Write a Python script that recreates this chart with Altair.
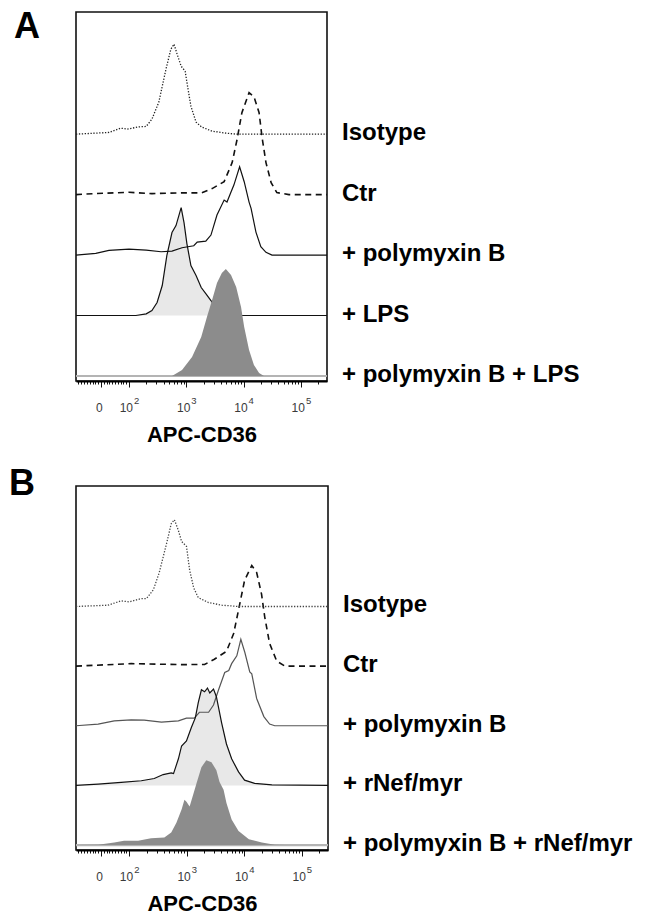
import math
import altair as alt
import pandas as pd

FONT = "Liberation Sans"

# ---------------- data (x = logicle display decades, c = relative count) -------------
# Panel A
A_iso_u = [1.075, 1.42, 1.65, 1.855, 1.965, 2.175, 2.30, 2.40, 2.52, 2.645, 2.73, 2.785, 2.84, 2.91, 2.98, 3.01, 3.08, 3.17, 3.27, 3.45, 3.69, 3.87, 5.455]
A_iso_c = [0, 1, 1.7, 6, 5, 7.3, 7.7, 15, 32, 65, 85, 90, 80, 68, 63, 52, 28, 12, 7, 3, 1, 0, 0]
A_ctr_u = [1.075, 1.40, 2.0, 2.40, 2.925, 3.27, 3.45, 3.66, 3.80, 3.885, 3.97, 4.095, 4.18, 4.27, 4.32, 4.39, 4.48, 4.58, 4.79, 5.455]
A_ctr_c = [0, 1, 2.3, 1, 1.7, 1.7, 6, 13, 32, 55, 82, 102, 98, 82, 58, 32, 12, 2, 0, 0]
A_pmb_u = [1.075, 1.42, 1.65, 2.0, 2.30, 2.56, 2.75, 2.925, 3.13, 3.19, 3.34, 3.43, 3.535, 3.66, 3.71, 3.78, 3.83, 3.93, 4.01, 4.095, 4.13, 4.215, 4.30, 4.39, 4.495, 5.455]
A_pmb_c = [0, 1.7, 4.7, 6, 5, 3.3, 4, 7.3, 9.3, 13, 14, 20, 40, 55, 53, 63, 70, 88.4, 73.4, 53, 46.7, 23, 8.3, 2.7, 0, 0]
A_lps_u = [1.075, 2.12, 2.30, 2.40, 2.49, 2.58, 2.66, 2.75, 2.82, 2.91, 2.96, 3.01, 3.08, 3.17, 3.26, 3.34, 3.43, 3.52, 3.62, 3.745, 5.455]
A_lps_c = [0, 0, 1.7, 5, 13, 30, 60, 83, 90, 108, 93, 72, 50, 40, 28, 22, 15, 7, 2, 0, 0]
A_pl_u = [1.075, 2.75, 2.925, 3.10, 3.26, 3.36, 3.45, 3.535, 3.62, 3.69, 3.78, 3.87, 3.955, 4.01, 4.095, 4.18, 4.27, 4.355, 5.455]
A_pl_c = [0, 0, 6, 19, 39, 59, 76, 93, 103, 107, 101, 89, 69, 49, 26, 11, 3, 0, 0]
A_labels = ["+ polymyxin B + LPS", "+ LPS", "+ polymyxin B", "Ctr", "Isotype"]

# Panel B
B_iso_u = [1.075, 1.63, 1.86, 2.0, 2.21, 2.30, 2.42, 2.52, 2.65, 2.73, 2.785, 2.855, 2.91, 2.995, 3.05, 3.12, 3.20, 3.38, 3.61, 3.90, 5.455]
B_iso_c = [0, 1.3, 5.7, 4.7, 8, 8, 17, 34, 64, 84, 88, 77, 66, 61, 37, 19, 9, 4, 1.3, 0, 0]
B_ctr_u = [1.075, 2.035, 2.96, 3.31, 3.48, 3.69, 3.815, 3.90, 4.005, 4.13, 4.215, 4.30, 4.355, 4.44, 4.565, 4.705, 5.455]
B_ctr_c = [0, 2.5, 1.5, 1.7, 7, 15, 33, 57, 87, 102, 95, 73, 50, 23, 5, 0, 0]
B_pmb_u = [1.075, 1.46, 1.74, 2.035, 2.26, 2.56, 2.855, 2.995, 3.13, 3.22, 3.38, 3.465, 3.55, 3.66, 3.73, 3.78, 3.87, 3.94, 4.01, 4.095, 4.13, 4.215, 4.34, 4.44, 4.53, 5.455]
B_pmb_c = [0, 1.7, 5, 6, 5.7, 3.7, 5, 7.7, 7.7, 13.7, 13.7, 21, 36, 54, 56, 63, 71, 87.7, 74.3, 54.7, 52.7, 27.7, 9.3, 1.7, 0, 0]
B_nef_u = [1.075, 1.46, 1.86, 2.21, 2.435, 2.59, 2.73, 2.77, 2.855, 2.91, 2.995, 3.08, 3.15, 3.20, 3.255, 3.31, 3.36, 3.40, 3.465, 3.515, 3.605, 3.69, 3.78, 3.90, 4.005, 4.18, 4.48, 5.455]
B_nef_c = [0, 1.3, 3, 4.7, 7, 11, 12.7, 12, 27, 40, 45, 58.7, 68.7, 84, 97, 95, 98.7, 93.7, 97.7, 90, 63.7, 42, 27, 13.7, 5.3, 2, 0.5, 0]
B_pn_u = [1.075, 1.46, 1.74, 1.91, 2.155, 2.38, 2.61, 2.73, 2.82, 2.91, 2.96, 2.995, 3.05, 3.12, 3.17, 3.255, 3.34, 3.43, 3.515, 3.57, 3.64, 3.69, 3.78, 3.90, 4.08, 4.305, 4.53, 4.705, 5.455]
B_pn_c = [0, 0.3, 2.7, 4.3, 4.3, 7, 7.7, 12.7, 22.7, 36, 46, 44, 39, 52.7, 62.7, 79, 86, 84, 76, 64, 56, 42.7, 26, 14.3, 6, 2.7, 0.3, 0, 0]
B_labels = ["+ polymyxin B + rNef/myr", "+ rNef/myr", "+ polymyxin B", "Ctr", "Isotype"]

# axis ticks (logicle display positions) and their labels
tick_major_u = [1.51, 2, 3, 4, 5]
tick_base = ["0", "10", "10", "10", "10"]
tick_exp = ["", "2", "3", "4", "5"]
tick_linear_u = [round(1.51 - 0.049 * k, 4) for k in range(1, 9)] + [round(1.51 + 0.049 * k, 4) for k in range(1, 10)]
tick_log_u = [round(d + math.log10(k), 4) for d in (2, 3, 4) for k in range(2, 10)] + [round(5 + math.log10(2), 4)]

# ---------------- layout constants ----------------
STEP = 60.5
X_DOMAIN = [1.075, 5.455]
Y_DOMAIN = [-0.083, 6.02]
LIGHT = "#e8e8e8"
DARK = "#8c8c8c"
TICK_TXT = "#3a3a3a"

all_ticks = sorted(tick_major_u + tick_linear_u + tick_log_u)
major_test = " || ".join(f"datum.value == {v}" for v in tick_major_u)


def xenc():
    return alt.X(
        "u:Q",
        scale=alt.Scale(domain=X_DOMAIN, nice=False, zero=False),
        axis=alt.Axis(
            values=all_ticks,
            labels=False,
            grid=False,
            domain=True,
            domainColor="black",
            domainWidth=2,
            ticks=True,
            tickColor="#111",
            tickWidth=1,
            tickSize={"condition": {"test": major_test, "value": 6}, "value": 3},
            title="APC-CD36",
            titleFont=FONT,
            titleFontSize=22,
            titleFontWeight="bold",
            titleColor="black",
            titlePadding=37,
        ),
    )


yscale = alt.Scale(domain=Y_DOMAIN, nice=False, zero=False)


def sdf(u, c, base):
    return pd.DataFrame({"u": u, "count": c, "base": [base] * len(u)})


def curve(df):
    return alt.Chart(df).transform_calculate(y=f"datum.base + datum.count / {STEP}")


def area(df, color):
    return curve(df).mark_area(color=color, interpolate="linear", opacity=1).encode(
        x=xenc(), y=alt.Y("y:Q", scale=yscale, axis=None), y2="base:Q"
    )


def line(df, color, width, dash=None):
    kw = dict(color=color, strokeWidth=width, interpolate="linear")
    if dash:
        kw["strokeDash"] = dash
    return curve(df).mark_line(**kw).encode(x=xenc(), y=alt.Y("y:Q", scale=yscale, axis=None))


def baseline_line(df, color, width):
    return alt.Chart(df).mark_line(color=color, strokeWidth=width).encode(
        x=xenc(), y=alt.Y("base:Q", scale=yscale, axis=None)
    )


def panel(letter, letter_x, letter_y, W, H, iso, ctr, pmb, mid, bot, labels, pmb_color, iso_color):
    iso_df = sdf(*iso, 4)
    ctr_df = sdf(*ctr, 3)
    pmb_df = sdf(*pmb, 2)
    mid_df = sdf(*mid, 1)
    bot_df = sdf(*bot, 0)

    layers = [
        area(mid_df, LIGHT),
        line(pmb_df, pmb_color, 1.2),
        line(mid_df, "#111", 1.2),
        baseline_line(bot_df, "#b4b4b4", 2.2),
        area(bot_df, DARK),
        line(ctr_df, "#111", 1.6, [6, 4.5]),
        line(iso_df, iso_color, 1.3, [1.3, 1.6]),
    ]

    lab_df = pd.DataFrame({"label": labels, "base": [0, 1, 2, 3, 4]})
    layers.append(
        alt.Chart(lab_df).mark_text(
            align="left", baseline="alphabetic", font=FONT, fontSize=24, fontWeight="bold",
            color="black", dy=6,
        ).encode(x=alt.value(W + 15), y=alt.Y("base:Q", scale=yscale, axis=None), text="label:N")
    )

    tick_df = pd.DataFrame({"u": tick_major_u, "base_t": tick_base, "exp": tick_exp})
    layers.append(
        alt.Chart(tick_df).transform_filter("datum.base_t == '0'").mark_text(
            align="center", baseline="alphabetic", font=FONT, fontSize=12, color=TICK_TXT, dx=-1.5
        ).encode(x=xenc(), y=alt.value(H + 31), text="base_t:N")
    )
    layers.append(
        alt.Chart(tick_df).transform_filter("datum.base_t != '0'").mark_text(
            align="right", baseline="alphabetic", font=FONT, fontSize=12, color=TICK_TXT, dx=4
        ).encode(x=xenc(), y=alt.value(H + 31), text="base_t:N")
    )
    layers.append(
        alt.Chart(tick_df).transform_filter("datum.exp != ''").mark_text(
            align="left", baseline="alphabetic", font=FONT, fontSize=9.5, color=TICK_TXT, dx=5
        ).encode(x=xenc(), y=alt.value(H + 23), text="exp:N")
    )

    letter_df = pd.DataFrame({"t": [letter]})
    layers.append(
        alt.Chart(letter_df).mark_text(
            align="left", baseline="alphabetic", font=FONT, fontSize=36, fontWeight="bold", color="black"
        ).encode(x=alt.value(letter_x), y=alt.value(letter_y), text="t:N")
    )

    return alt.layer(*layers).properties(width=W, height=H)


pA = panel("A", -62, 26, 251, 369,
           (A_iso_u, A_iso_c), (A_ctr_u, A_ctr_c), (A_pmb_u, A_pmb_c),
           (A_lps_u, A_lps_c), (A_pl_u, A_pl_c), A_labels, "#111", "#222")
pB = panel("B", -67, 9, 252, 364,
           (B_iso_u, B_iso_c), (B_ctr_u, B_ctr_c), (B_pmb_u, B_pmb_c),
           (B_nef_u, B_nef_c), (B_pn_u, B_pn_c), B_labels, "#555", "#444")

chart = alt.vconcat(pA, pB, spacing=18, padding=0, background="white").configure_view(
    stroke="#111", strokeWidth=1.6
)

chart.save("out.html", embed_options={"renderer": "svg", "actions": False})
